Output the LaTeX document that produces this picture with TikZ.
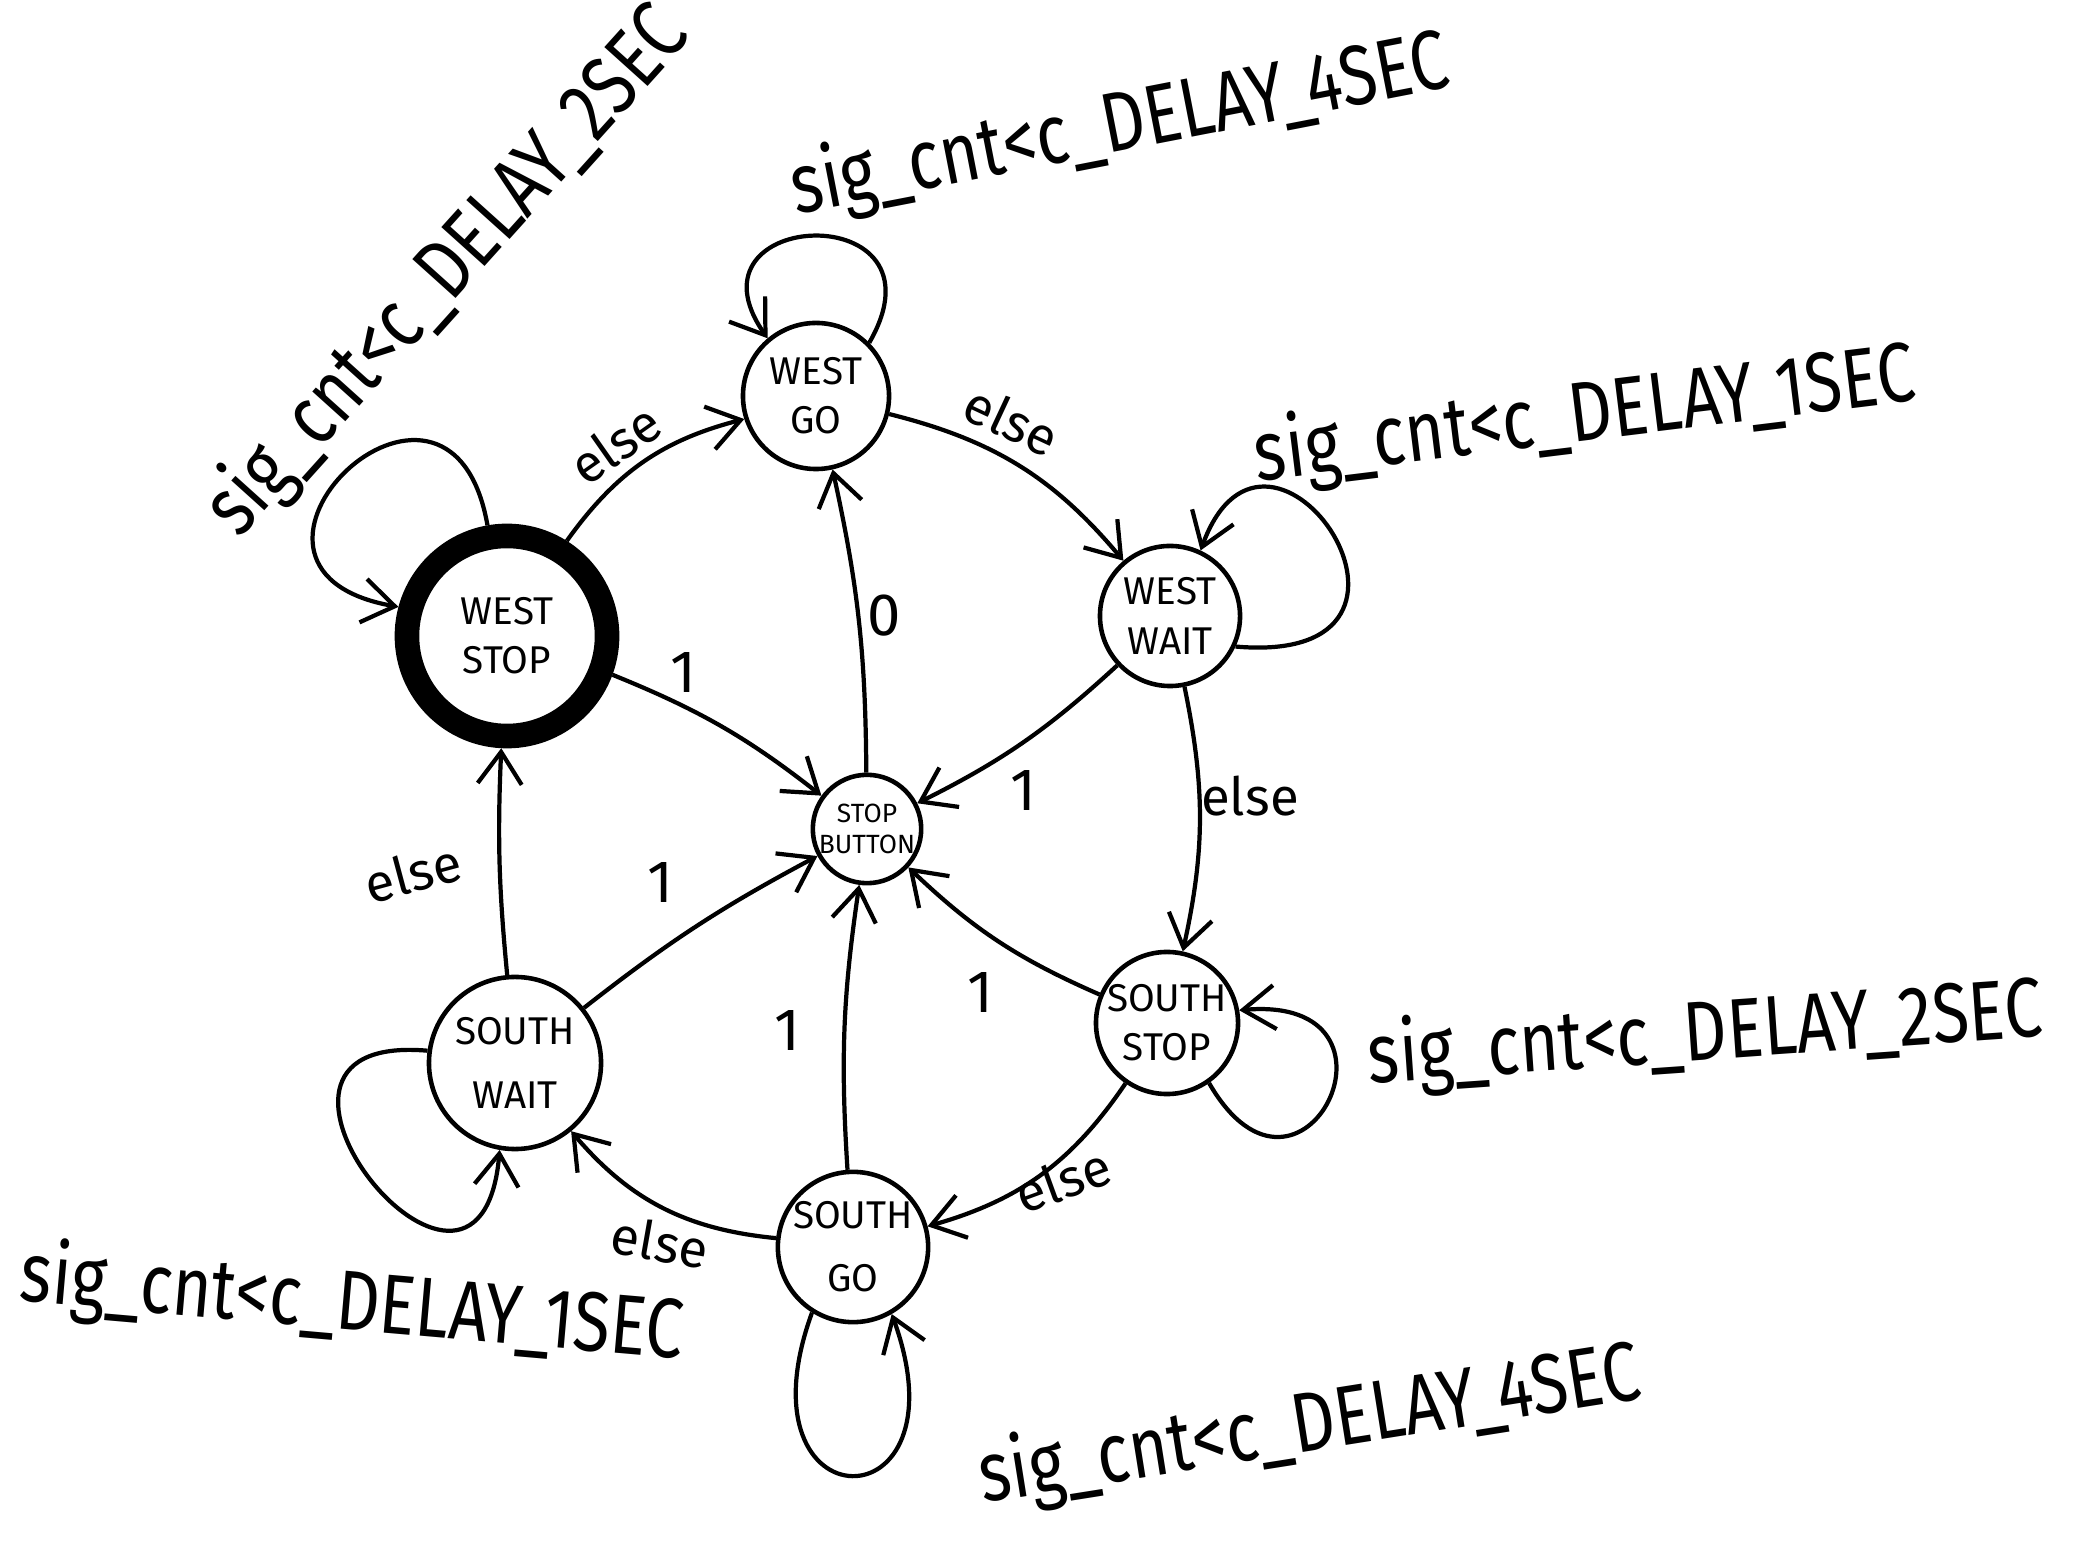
\documentclass[tikz,border=0pt]{standalone}
\usepackage{fontspec}
\setmainfont{Fira Sans}
\usetikzlibrary{arrows.meta}

\begin{document}
\begin{tikzpicture}[
  x=0.01cm,y=0.01cm,
  state/.style={
    draw,circle,line width=1.3pt,align=center,
    inner sep=0pt,font=\fontsize{11}{14}\selectfont
  },
  arr/.style={-{Straight Barb[length=3.2mm,width=4.4mm,line width=1.2pt]},line width=1.2pt},
  cond/.style={font=\fontsize{24}{28}\selectfont,inner sep=0pt,rotate=#1,xscale=0.8},
  lbl/.style={font=\fontsize{15}{18}\selectfont,inner sep=1pt,rotate=#1},
  lbl/.default=0
]
  \useasboundingbox (0,0) rectangle (2091,1542);

  % states
  \node[state,minimum size=1.46cm] (wgo) at (816,1146) {WEST\\GO};
  \node[state,minimum size=1.40cm] (wwait) at (1170,926) {WEST\\WAIT};
  \node[state,minimum size=2.00cm,line width=7pt] (wstop) at (507,906) {WEST\\STOP};
  \node[state,minimum size=1.06cm,font=\fontsize{7.5}{9}\selectfont] (sb) at (867,713) {STOP\\BUTTON};
  \node[state,minimum size=1.42cm] (sstop) at (1167,519) {SOUTH\\STOP};
  \node[state,minimum size=1.72cm] (swait) at (515,479) {SOUTH\\[4pt]WAIT};
  \node[state,minimum size=1.50cm] (sgo) at (853,295) {SOUTH\\[4pt]GO};

  % ring of else transitions
  \draw[arr] (wstop) to[bend left=20] (wgo);
  \draw[arr] (wgo) to[bend left=18] (wwait);
  \draw[arr] (wwait) to[bend left=12] (sstop);
  \draw[arr] (sstop) to[bend left=20] (sgo);
  \draw[arr] (sgo) to[bend left=22] (swait);
  \draw[arr] (swait) to[bend left=4] (wstop);

  % spokes through the stop button
  \draw[arr] (wstop) to[bend left=8] (sb);
  \draw[arr] (sb) to[bend right=6] (wgo);
  \draw[arr] (wwait) to[bend left=8] (sb);
  \draw[arr] (sstop) to[bend left=10] (sb);
  \draw[arr] (sgo) to[bend left=6] (sb);
  \draw[arr] (swait) to[bend left=5] (sb);

  % self loops
  \draw[arr] (wgo.45) .. controls +(60:170) and +(125:160) .. (wgo.130);
  \draw[arr] (wstop.100) .. controls +(100:220) and +(170:220) .. (wstop.165);
  \draw[arr] (wwait.-25) .. controls +(-5:240) and +(70:200) .. (wwait.65);
  \draw[arr] (sstop.-55) .. controls +(-60:185) and +(5:185) .. (sstop.10);
  \draw[arr] (swait.172) .. controls +(175:230) and +(-95:230) .. (swait.-100);
  \draw[arr] (sgo.-122) .. controls +(-110:230) and +(-70:230) .. (sgo.-60);

  % transition labels
  \node[lbl=35] (l-wstop-wgo) at (615,1098) {else};
  \node[lbl=-25] (l-wgo-wwait) at (1012,1122) {else};
  \node[lbl] (l-wwait-sstop) at (1250,746) {else};
  \node[lbl=20] (l-sstop-sgo) at (1063,362) {else};
  \node[lbl=-10] (l-sgo-swait) at (660,300) {else};
  \node[lbl=15] (l-swait-wstop) at (413,669) {else};
  \node[lbl,font=\fontsize{17}{20}\selectfont] (l-wstop-sb) at (683,869) {1};
  \node[lbl,font=\fontsize{17}{20}\selectfont] (l-sb-wgo) at (884,926) {0};
  \node[lbl,font=\fontsize{17}{20}\selectfont] (l-wwait-sb) at (1023,751) {1};
  \node[lbl,font=\fontsize{17}{20}\selectfont] (l-swait-sb) at (660,659) {1};
  \node[lbl,font=\fontsize{17}{20}\selectfont] (l-sgo-sb) at (787,511) {1};
  \node[lbl,font=\fontsize{17}{20}\selectfont] (l-sstop-sb) at (980,549) {1};

  % loop conditions
  \node[cond=11] (c-wgo) at (1120,1415) {sig\_cnt<c\_DELAY\_4SEC};
  \node[cond=48] (c-wstop) at (448,1270) {sig\_cnt<c\_DELAY\_2SEC};
  \node[cond=7] (c-wwait) at (1585,1125) {sig\_cnt<c\_DELAY\_1SEC};
  \node[cond=4] (c-sstop) at (1705,506) {sig\_cnt<c\_DELAY\_2SEC};
  \node[cond=-5] (c-swait) at (352,236) {sig\_cnt<c\_DELAY\_1SEC};
  \node[cond=9] (c-sgo) at (1310,115) {sig\_cnt<c\_DELAY\_4SEC};
\end{tikzpicture}
\end{document}
